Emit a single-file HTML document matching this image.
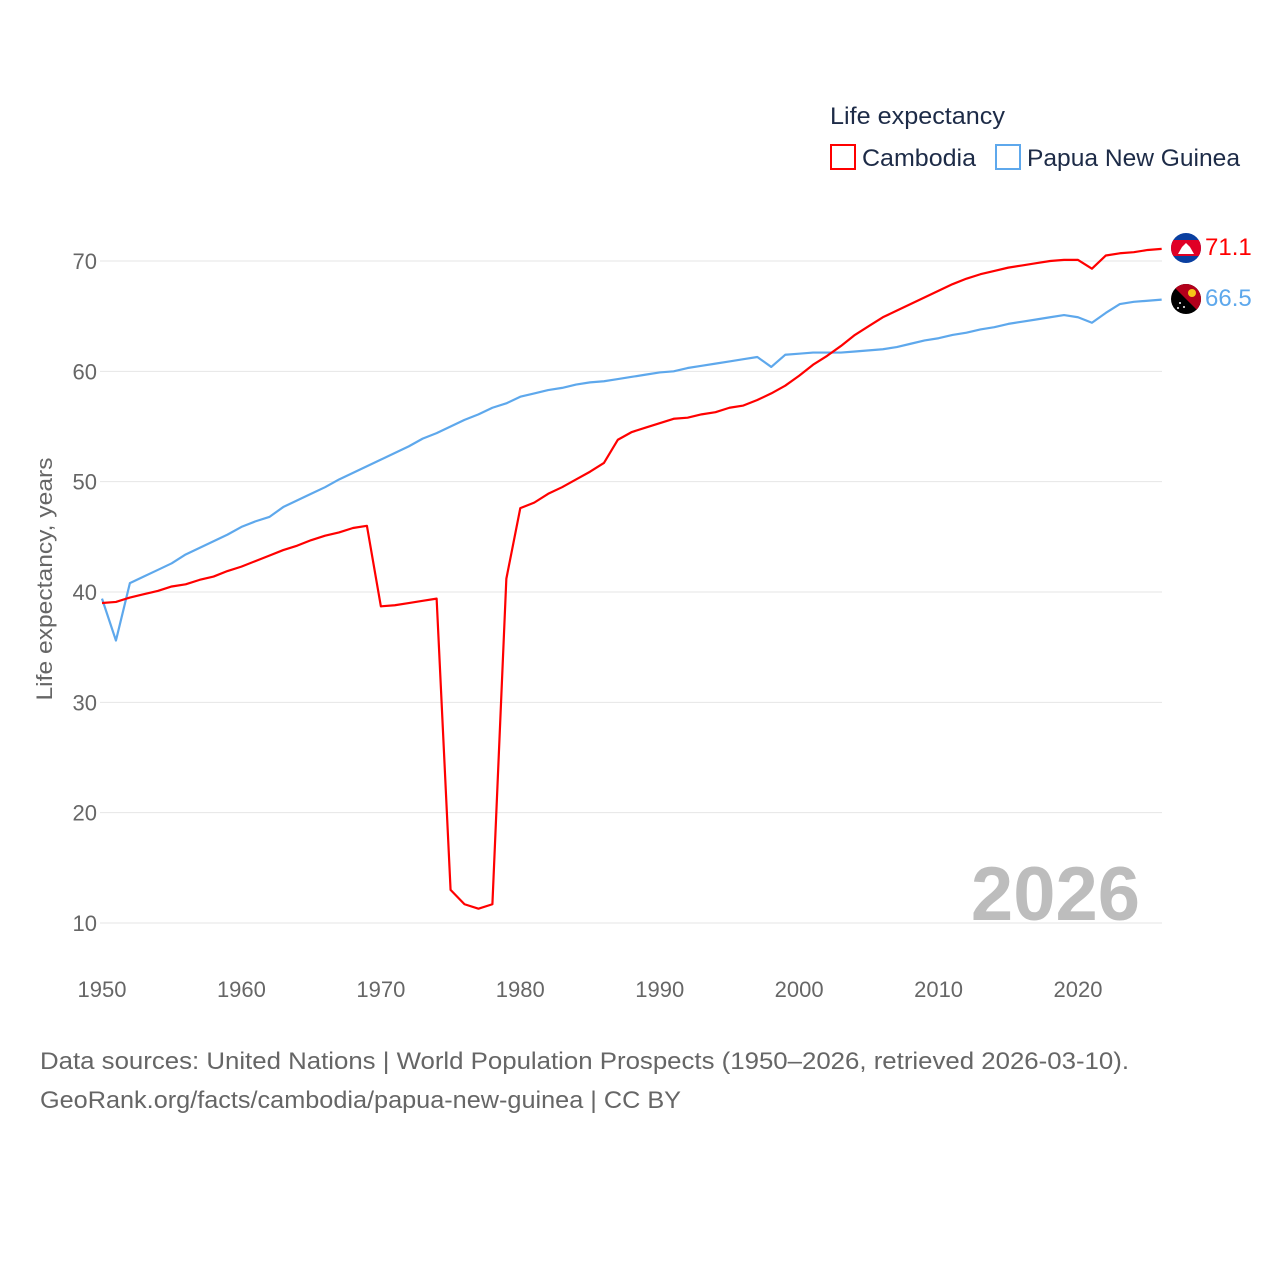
<!DOCTYPE html>
<html><head><meta charset="utf-8"><style>
body{margin:0;background:#fff;font-family:"Liberation Sans",sans-serif}
svg{display:block}
</style></head><body>
<svg id="chart" width="1280" height="1280" viewBox="0 0 1280 1280">
<g id="grid"></g>
<g id="yticks"></g>
<g id="xticks"></g>
<text x="52" y="579" transform="rotate(-90 52 579)" text-anchor="middle" font-size="22" fill="#666" textLength="243" lengthAdjust="spacingAndGlyphs">Life expectancy, years</text>
<text x="1140" y="920" text-anchor="end" font-size="76" font-weight="bold" fill="#bdbdbd">2026</text>
<g id="lines"></g>
<g>
<text x="830" y="124" font-size="24" fill="#1d2b47" textLength="175" lengthAdjust="spacingAndGlyphs">Life expectancy</text>
<g><rect x="831" y="145" width="24" height="24" fill="none" stroke="#ff0000" stroke-width="2"/><text x="862" y="166" font-size="24" fill="#1d2b47" textLength="114" lengthAdjust="spacingAndGlyphs">Cambodia</text></g>
<g><rect x="996" y="145" width="24" height="24" fill="none" stroke="#5ea8ec" stroke-width="2"/><text x="1027" y="166" font-size="24" fill="#1d2b47" textLength="213" lengthAdjust="spacingAndGlyphs">Papua New Guinea</text></g>
</g>
<defs><clipPath id="c1"><circle cx="1186" cy="248" r="15"/></clipPath><clipPath id="c2"><circle cx="1186" cy="299" r="15"/></clipPath></defs>
<g clip-path="url(#c1)"><rect x="1171" y="233" width="30" height="30" fill="#0a3fa0"/><rect x="1171" y="240" width="30" height="16" fill="#e00025"/><polygon points="1178,254 1194,254 1190,247 1186,243 1182,247" fill="#fff"/></g>
<g clip-path="url(#c2)"><rect x="1171" y="284" width="30" height="30" fill="#000"/><polygon points="1171,284 1201,284 1201,314" fill="#b3001b"/><circle cx="1192" cy="293" r="4" fill="#f5c518"/><circle cx="1180" cy="303" r="1" fill="#fff"/><circle cx="1184" cy="307" r="1" fill="#fff"/><circle cx="1178" cy="308" r="1" fill="#fff"/></g>
<text x="1205" y="255" font-size="24" fill="#ff0000">71.1</text>
<text x="1205" y="306" font-size="24" fill="#5ea8ec">66.5</text>
<text x="40" y="1069" font-size="24" fill="#666" textLength="1089" lengthAdjust="spacingAndGlyphs">Data sources: United Nations | World Population Prospects (1950–2026, retrieved 2026-03-10).</text>
<text x="40" y="1108" font-size="24" fill="#666" textLength="641" lengthAdjust="spacingAndGlyphs">GeoRank.org/facts/cambodia/papua-new-guinea | CC BY</text>
</svg>
<script>
const years=[];for(let y=1950;y<=2026;y++)years.push(y);
const cambodia=[39.0,39.1,39.5,39.8,40.1,40.5,40.7,41.1,41.4,41.9,42.3,42.8,43.3,43.8,44.2,44.7,45.1,45.4,45.8,46.0,38.7,38.8,39.0,39.2,39.4,13.0,11.7,11.3,11.7,41.2,47.6,48.1,48.9,49.5,50.2,50.9,51.7,53.8,54.5,54.9,55.3,55.7,55.8,56.1,56.3,56.7,56.9,57.4,58.0,58.7,59.6,60.6,61.4,62.3,63.3,64.1,64.9,65.5,66.1,66.7,67.3,67.9,68.4,68.8,69.1,69.4,69.6,69.8,70.0,70.1,70.1,69.3,70.5,70.7,70.8,71.0,71.1];
const png=[39.4,35.6,40.8,41.4,42.0,42.6,43.4,44.0,44.6,45.2,45.9,46.4,46.8,47.7,48.3,48.9,49.5,50.2,50.8,51.4,52.0,52.6,53.2,53.9,54.4,55.0,55.6,56.1,56.7,57.1,57.7,58.0,58.3,58.5,58.8,59.0,59.1,59.3,59.5,59.7,59.9,60.0,60.3,60.5,60.7,60.9,61.1,61.3,60.4,61.5,61.6,61.7,61.7,61.7,61.8,61.9,62.0,62.2,62.5,62.8,63.0,63.3,63.5,63.8,64.0,64.3,64.5,64.7,64.9,65.1,64.9,64.4,65.3,66.1,66.3,66.4,66.5];
const yTicks=[10,20,30,40,50,60,70];
const xTicks=[1950,1960,1970,1980,1990,2000,2010,2020];
const NS='http://www.w3.org/2000/svg';
const xs=y=>102+(y-1950)*(1078-102)/70;
const ys=v=>923-(v-10)*(923-261)/60;
function mk(t,a,p){const e=document.createElementNS(NS,t);for(const k in a)e.setAttribute(k,a[k]);p.appendChild(e);return e;}
const grid=document.getElementById('grid'),yt=document.getElementById('yticks'),xt=document.getElementById('xticks'),ln=document.getElementById('lines');
yTicks.forEach(v=>{
 const l=mk('line',{x1:100,x2:1162,y1:ys(v),y2:ys(v),stroke:'#e6e6e6','stroke-width':1},grid);
 
 
 const t=mk('text',{x:97,y:ys(v)+8,'text-anchor':'end','font-size':22,fill:'#666'},yt);t.textContent=v;
 
 
});
xTicks.forEach(v=>{
 const t=mk('text',{x:xs(v),y:997,'text-anchor':'middle','font-size':22,fill:'#666'},xt);t.textContent=v;
 
 
});
function series(d,c,n){
 const p=mk('polyline',{points:d.map((v,i)=>xs(years[i])+','+ys(v)).join(' '),fill:'none',stroke:c,'stroke-width':2.2,'stroke-linejoin':'round'},ln);
 
 
}
series(png,'#5ea8ec','png-line');
series(cambodia,'#ff0000','cambodia-line');
</script>
</body></html>
